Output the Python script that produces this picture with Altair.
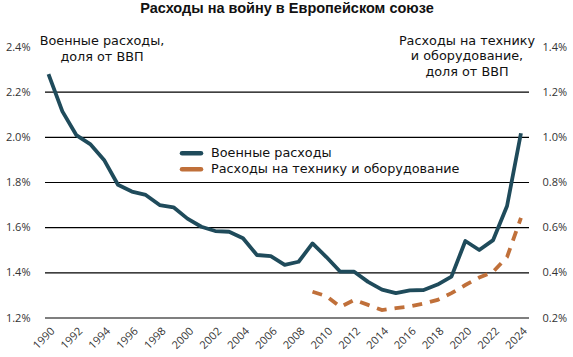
import altair as alt
import pandas as pd

# ---- data ----
years = list(range(1990, 2025))
military = [2.28, 2.115, 2.01, 1.97, 1.90, 1.79, 1.76, 1.745, 1.70, 1.69,
            1.64, 1.604, 1.585, 1.582, 1.553, 1.479, 1.474, 1.435, 1.449, 1.53,
            1.47, 1.405, 1.405, 1.36, 1.326, 1.31, 1.322, 1.324, 1.348, 1.383,
            1.541, 1.501, 1.545, 1.696, 2.018]
equip_years = list(range(2009, 2025))
equipment = [0.316, 0.297, 0.249, 0.28, 0.258, 0.235, 0.244, 0.251, 0.264, 0.28,
             0.31, 0.346, 0.379, 0.405, 0.47, 0.643]
left_ticks = [1.2, 1.4, 1.6, 1.8, 2.0, 2.2, 2.4]
right_ticks = [0.2, 0.4, 0.6, 0.8, 1.0, 1.2, 1.4]
grid_values = [1.2, 1.4, 1.6, 1.8, 2.0, 2.2]
x_ticks = list(range(1990, 2025, 2))
series_names = ["Военные расходы", "Расходы на технику и оборудование"]
title_text = "Расходы на войну в Европейском союзе"
left_note = ["Военные расходы,", "доля от ВВП"]
right_note = ["Расходы на технику", "и оборудование,", "доля от ВВП"]

TEAL = "#1f4b5b"
ORANGE = "#c0703a"
TICK_FONT = "Open Sans"
TEXT_FONT = "DejaVu Sans"

mil_df = pd.DataFrame({"year": years, "value": military})
eq_df = pd.DataFrame({"year": equip_years, "value": equipment})
grid_df = pd.DataFrame({"value": grid_values})

x_enc = alt.X("year:Q",
              scale=alt.Scale(domain=[1989.75, 2024.58], nice=False, zero=False),
              axis=alt.Axis(values=x_ticks, format="d", title=None, grid=False,
                            ticks=False, domain=False, labelAngle=-45,
                            labelAlign="right", labelBaseline="top",
                            labelPadding=7, labelFontSize=11, labelFont=TICK_FONT,
                            labelColor="#333333"))

left_scale = alt.Scale(domain=[1.2, 2.4], nice=False, zero=False)
right_scale = alt.Scale(domain=[0.2, 1.4], nice=False, zero=False)

left_axis = alt.Axis(values=left_ticks, title=None, grid=False, ticks=False,
                     domain=False, labelExpr="format(datum.value, '.1f') + '%'",
                     labelPadding=15, labelFontSize=11, labelFont=TICK_FONT,
                     labelColor="#333333")
right_axis = alt.Axis(values=right_ticks, title=None, grid=False, ticks=False,
                      domain=False, orient="right",
                      labelExpr="format(datum.value, '.1f') + '%'",
                      labelPadding=13, labelFontSize=11, labelFont=TICK_FONT,
                      labelColor="#333333")

grid = alt.Chart(grid_df).mark_rule(color="#000000", strokeWidth=1.2).encode(
    y=alt.Y("value:Q", scale=left_scale, axis=left_axis),
    x=alt.value(0), x2=alt.value(484))

mil_line = alt.Chart(mil_df).mark_line(color=TEAL, strokeWidth=3.8,
                                       strokeJoin="round").encode(
    x=x_enc, y=alt.Y("value:Q", scale=left_scale, axis=left_axis))

eq_line = alt.Chart(eq_df).mark_line(color=ORANGE, strokeWidth=3.8,
                                     strokeDash=[10, 8]).encode(
    x=x_enc, y=alt.Y("value:Q", scale=right_scale, axis=right_axis))


def txt(s, x, y, size=12.8, weight="normal", align="center", font=TEXT_FONT,
        color="#111111"):
    return alt.Chart(pd.DataFrame({"t": [s]})).mark_text(
        align=align, baseline="middle", fontSize=size, fontWeight=weight,
        font=font, color=color).encode(x=alt.value(x), y=alt.value(y), text="t:N")


texts = [txt(title_text, 242, -38, size=14.5, weight="bold", font="Liberation Sans")]
texts += [txt(s, 57, -6.5 + 16 * i) for i, s in enumerate(left_note)]
texts += [txt(s, 422, -6.5 + 15.5 * i) for i, s in enumerate(right_note)]

# legend (both symbols drawn solid, as in the reference)
leg = []
for i, (name, col) in enumerate(zip(series_names, [TEAL, ORANGE])):
    yy = 106.3 + 16 * i
    leg.append(alt.Chart(pd.DataFrame({"s": [name]})).mark_rule(
        color=col, strokeWidth=4.5, strokeCap="round", strokeDash=[200, 0]).encode(
        x=alt.value(137), x2=alt.value(156), y=alt.value(yy)))
    leg.append(txt(name, 166, yy, align="left"))

left_layer = alt.layer(grid, mil_line, *texts, *leg)
chart = alt.layer(left_layer, eq_line).resolve_scale(y="independent").properties(
    width=484, height=271,
    autosize=alt.AutoSizeParams(type="none"),
    padding={"left": 45, "top": 47, "right": 44, "bottom": 39},
    background="white",
).configure_view(stroke=None)

chart.save("out.html", embed_options={"renderer": "svg", "actions": False})
